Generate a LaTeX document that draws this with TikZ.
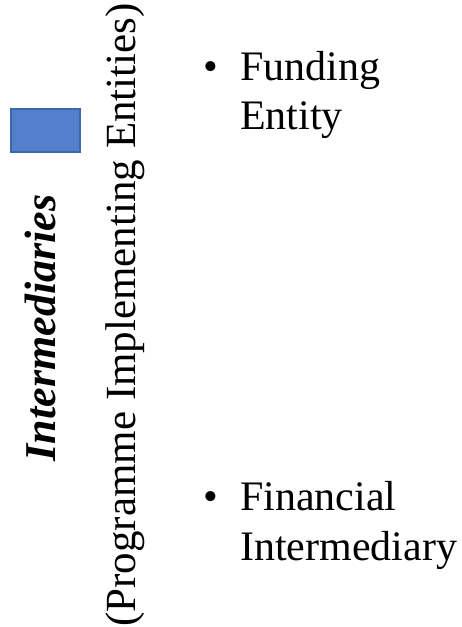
\documentclass[tikz,border=0pt]{standalone}
\usepackage{fontspec}
\setmainfont{Liberation Serif}
\begin{document}
\begin{tikzpicture}[x=1pt,y=-1pt,
  txt/.style={inner sep=0pt, font=\fontsize{42}{49}\selectfont},
  item/.style={txt, anchor=base west},
  keybox/.style={fill={rgb,255:red,82;green,128;blue,205}, draw={rgb,255:red,62;green,102;blue,172}, line width=1.5pt}]
  \useasboundingbox (0,0) rectangle (461,627);
  % legend swatch
  \node[keybox, minimum width=69pt, minimum height=43pt, inner sep=0pt, anchor=north west] (swatch) at (10,108) {};
  % vertical titles
  \node[txt, rotate=90, anchor=base, font=\fontsize{44}{49}\selectfont\bfseries\itshape] (inter) at (56,328) {Intermediaries};
  \node[txt, rotate=90, anchor=base, font=\fontsize{43}{49}\selectfont] (pie) at (135,315) {(Programme Implementing Entities)};
  % bullet list
  \node[item] (b1) at (203,80) {\textbullet};
  \node[item] (fund1) at (240,80) {Funding};
  \node[item] (fund2) at (240,129) {Entity};
  \node[item] (b2) at (203,510) {\textbullet};
  \node[item] (fin1) at (240,510) {Financial};
  \node[item] (fin2) at (240,560) {Intermediary};
\end{tikzpicture}
\end{document}
